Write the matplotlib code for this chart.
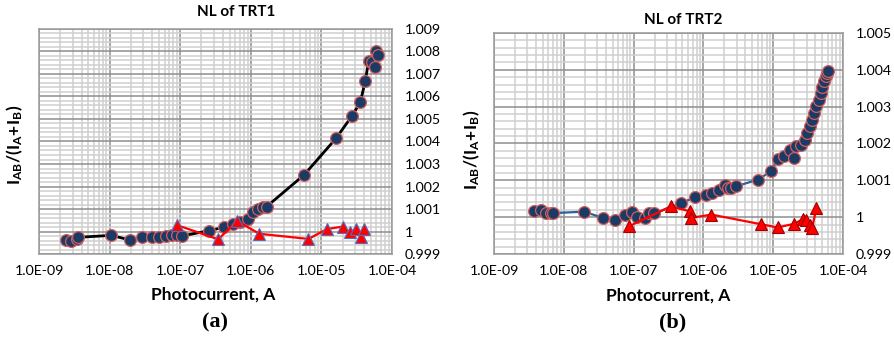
import numpy as np
import matplotlib
matplotlib.use("Agg")
import matplotlib.pyplot as plt
from matplotlib.ticker import LogLocator, MultipleLocator, FixedLocator, FuncFormatter

plt.rcParams['font.family'] = ['Lato', 'DejaVu Sans']
plt.rcParams['mathtext.fontset'] = 'custom'
plt.rcParams['mathtext.rm'] = 'Lato:weight=bold'
plt.rcParams['mathtext.it'] = 'Lato:weight=bold'
plt.rcParams['mathtext.bf'] = 'Lato:weight=bold'

# TRT1 - circles (ratio vs photocurrent)
trt1_I = [2.44e-9, 2.88e-9, 3.47e-9, 3.57e-9, 1.06e-8, 1.94e-8, 2.92e-8, 3.93e-8,
          5.05e-8, 6.28e-8, 7.55e-8, 8.9e-8, 1.05e-7, 2.59e-7, 4.18e-7, 5.67e-7,
          7.05e-7, 9.25e-7, 1.09e-6, 1.28e-6, 1.51e-6, 1.68e-6, 5.7e-6, 1.62e-5,
          2.7e-5, 3.56e-5, 4.19e-5, 4.67e-5, 5.2e-5, 5.68e-5, 6.0e-5, 6.33e-5]
trt1_R = [0.99962, 0.99959, 0.99967, 0.99974, 0.99983, 0.99962, 0.99974, 0.99977,
          0.99977, 0.99980, 0.99983, 0.99985, 0.99980, 1.00004, 1.00019, 1.00034,
          1.00044, 1.00056, 1.00088, 1.00100, 1.00108, 1.00111, 1.00252, 1.00415,
          1.00513, 1.00575, 1.00670, 1.00759, 1.00752, 1.00730, 1.00804, 1.00783]
# TRT1 - triangles
trt1_tri_I = [8.9e-8, 3.47e-7, 6.3e-7, 1.32e-6, 6.56e-6, 1.2e-5, 2.02e-5,
              2.5e-5, 3.12e-5, 3.63e-5, 4.05e-5]
trt1_tri_R = [1.00029, 0.99965, 1.00048, 0.99990, 0.99967, 1.00011, 1.00022,
              0.99996, 1.00010, 0.99974, 1.00011]

# TRT2 - circles
trt2_I = [3.74e-9, 4.67e-9, 5.62e-9, 6.49e-9, 7.0e-9, 1.95e-8, 3.64e-8, 5.36e-8,
          7.45e-8, 9.6e-8, 1.13e-7, 1.44e-7, 1.64e-7, 1.96e-7, 4.72e-7, 7.66e-7,
          1.1e-6, 1.33e-6, 1.65e-6, 2.02e-6, 2.25e-6, 2.51e-6, 2.96e-6, 6.05e-6,
          9.2e-6, 1.17e-5, 1.43e-5, 1.72e-5, 1.99e-5, 2.14e-5, 2.48e-5, 2.82e-5,
          3.08e-5, 3.33e-5, 3.6e-5, 3.84e-5, 4.15e-5, 4.48e-5, 4.78e-5, 5.06e-5,
          5.35e-5, 5.65e-5, 5.9e-5, 6.1e-5]
trt2_R = [1.00016, 1.00019, 1.00010, 1.00011, 1.00011, 1.00015, 0.99998, 0.99993,
          1.00007, 1.00013, 1.00000, 0.99998, 1.00011, 1.00010, 1.00038, 1.00054,
          1.00059, 1.00066, 1.00075, 1.00086, 1.00079, 1.00079, 1.00084, 1.00102,
          1.00124, 1.00158, 1.00165, 1.00183, 1.00161, 1.00192, 1.00197, 1.00210,
          1.00228, 1.00247, 1.00265, 1.00283, 1.00301, 1.00319, 1.00337, 1.00353,
          1.00369, 1.00382, 1.00391, 1.00398]
# TRT2 - triangles
trt2_tri_I = [8.5e-8, 3.4e-7, 6.35e-7, 6.57e-7, 1.3e-6, 6.62e-6, 1.15e-5, 1.99e-5,
              2.67e-5, 2.98e-5, 3.33e-5, 3.6e-5, 4.15e-5]
trt2_tri_R = [0.99975, 1.00029, 1.00016, 0.99998, 1.00007, 0.99981, 0.99972, 0.99982,
              0.99995, 0.99993, 0.99980, 0.99971, 1.00025]

navy = '#1b3a66'
edge_red = '#d0605c'


def yfmt(v, pos):
    s = '%.3f' % v
    s = s.rstrip('0').rstrip('.')
    return s


def style_axes(ax, ymin, ymax):
    ax.set_xscale('log')
    ax.set_xlim(1e-9, 1e-4)
    ax.set_ylim(ymin, ymax)
    ax.xaxis.set_major_locator(FixedLocator([1e-9, 1e-8, 1e-7, 1e-6, 1e-5, 1e-4]))
    ax.xaxis.set_minor_locator(LogLocator(base=10, subs=np.arange(2, 10), numticks=20))
    ax.xaxis.set_major_formatter(FuncFormatter(lambda v, p: '1.0E-%02d' % round(-np.log10(v))))
    ax.xaxis.set_minor_formatter(FuncFormatter(lambda v, p: ''))
    ax.yaxis.set_major_locator(MultipleLocator(0.001))
    ax.yaxis.set_minor_locator(MultipleLocator(0.0002))
    ax.yaxis.set_major_formatter(FuncFormatter(yfmt))
    ax.yaxis.tick_right()
    ax.tick_params(axis='y', which='both', length=0, pad=9, labelsize=10.2)
    ax.tick_params(axis='x', which='both', length=0, pad=8, labelsize=10.2)
    ax.grid(True, which='major', color='#8e8e8e', lw=1.1)
    ax.grid(True, which='minor', color='#cfcfcf', lw=1.1)
    ax.set_axisbelow(True)
    for sp in ax.spines.values():
        sp.set_color('#999999')
        sp.set_linewidth(1.1)


fig = plt.figure(figsize=(8.95, 3.39), dpi=100)

ax1 = fig.add_axes([0.0436, 0.2507, 0.3944, 0.6638])
style_axes(ax1, 0.999, 1.009)
ax1.plot(trt1_I, trt1_R, '-', color='black', lw=2, zorder=2)
ax1.plot(trt1_I, trt1_R, 'o', ms=8.5, mfc=navy, mec=edge_red, mew=0.9, zorder=3)
ax1.plot(trt1_tri_I, trt1_tri_R, '-', color='#ff0000', lw=1.6, zorder=4)
ax1.plot(trt1_tri_I, trt1_tri_R, '^', ms=8.5, mfc='#ff0000', mec='#4f6fbd', mew=0.8, zorder=5)

ax2 = fig.add_axes([0.552, 0.2507, 0.390, 0.652])
style_axes(ax2, 0.999, 1.005)
ax2.plot(trt2_I, trt2_R, '-', color='#2e5f9a', lw=1.6, zorder=2)
ax2.plot(trt2_I, trt2_R, 'o', ms=8.5, mfc=navy, mec=edge_red, mew=0.9, zorder=3)
ax2.plot(trt2_tri_I, trt2_tri_R, '-', color='#ff0000', lw=1.6, zorder=4)
ax2.plot(trt2_tri_I, trt2_tri_R, '^', ms=8.5, mfc='#ff0000', mec='#a00000', mew=0.8, zorder=5)

ylab = r'$\mathrm{I_{AB}/(I_A\!+\!I_B)}$'
fig.text(15 / 895, 1 - 145 / 339, ylab, rotation=90, ha='center', va='center', fontsize=12.5)
fig.text(472 / 895, 1 - 150 / 339, ylab, rotation=90, ha='center', va='center', fontsize=12.5)

fig.text(236 / 895, 1 - 12 / 339, 'NL of TRT1', ha='center', va='center', fontsize=11, fontweight='bold')
fig.text(683 / 895, 1 - 20 / 339, 'NL of TRT2', ha='center', va='center', fontsize=11, fontweight='bold')

fig.text(213 / 895, 1 - 295 / 339, 'Photocurrent, A', ha='center', va='center', fontsize=12.5, fontweight='bold')
fig.text(668 / 895, 1 - 296 / 339, 'Photocurrent, A', ha='center', va='center', fontsize=12.5, fontweight='bold')

fig.text(215 / 895, 1 - 322 / 339, '(a)', ha='center', va='center', fontsize=16, fontweight='bold',
         family=['Liberation Serif', 'DejaVu Serif'])
fig.text(673 / 895, 1 - 322 / 339, '(b)', ha='center', va='center', fontsize=16, fontweight='bold',
         family=['Liberation Serif', 'DejaVu Serif'])

fig.savefig('out.png', dpi=100)
